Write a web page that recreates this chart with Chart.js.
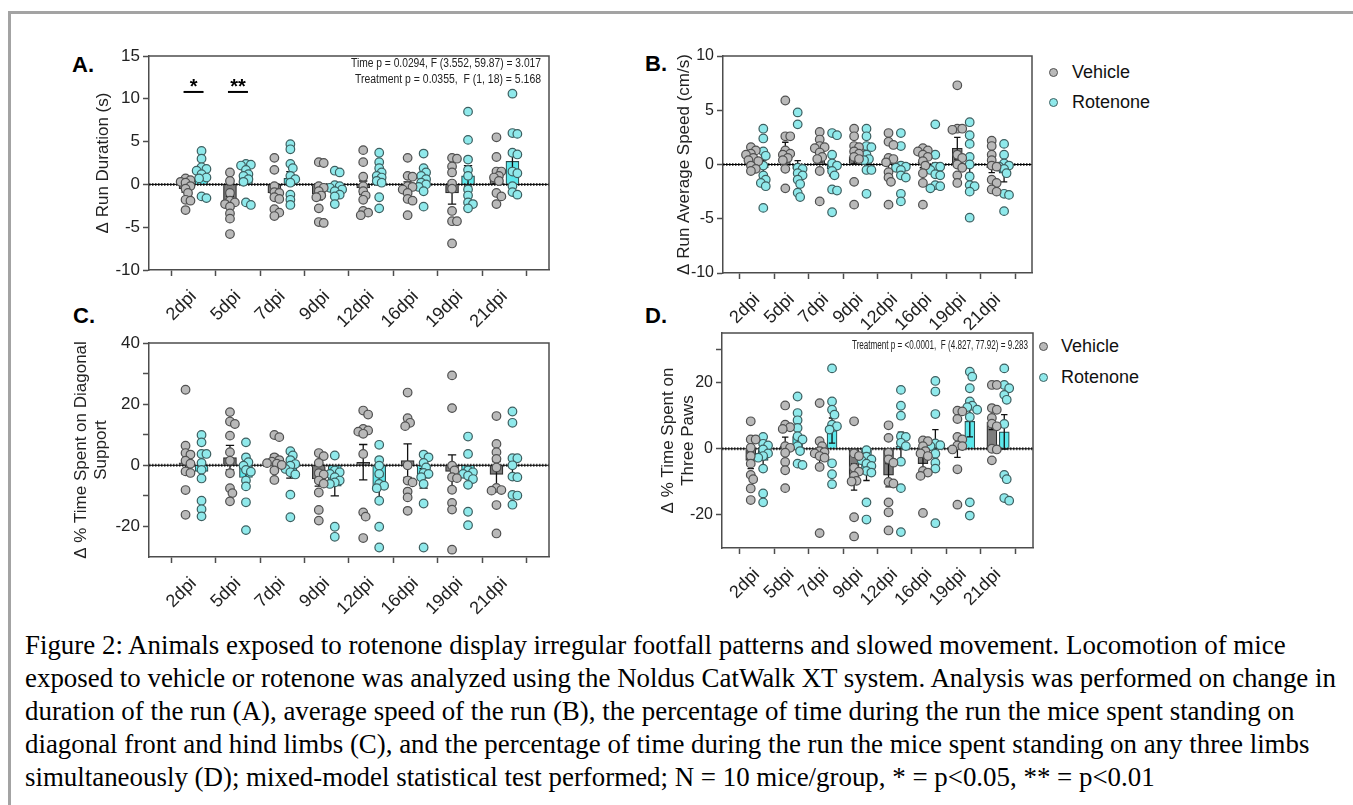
<!DOCTYPE html>
<html>
<head>
<meta charset="utf-8">
<script src="https://cdn.jsdelivr.net/npm/chart.js@4.4.0/dist/chart.umd.min.js"></script>
<style>
body { margin: 0; background: #fff; width: 1353px; height: 805px; overflow: hidden; position: relative; font-family: "Liberation Sans", Arial, sans-serif; }
#frame { position: absolute; left: 8px; top: 11px; width: 1350px; height: 800px; border-top: 3px solid #a3a3a3; border-left: 3px solid #a3a3a3; }
canvas { position: absolute; }
.letter { position: absolute; font: bold 22px "Liberation Sans", Arial, sans-serif; line-height: 22px; color: #000; }
.leg { position: absolute; font: 18px "Liberation Sans", Arial, sans-serif; line-height: 20px; color: #111; }
.dot { position: absolute; width: 7px; height: 7px; border-radius: 50%; }
#caption { position: absolute; left: 25px; top: 629px; font: 26.9px "Liberation Serif", "Times New Roman", serif; line-height: 33px; color: #000; white-space: nowrap; }
</style>
</head>
<body>
<div id="frame"></div>

<div class="letter" style="left:72px;top:54px">A.</div>
<div class="letter" style="left:645px;top:53px">B.</div>
<div class="letter" style="left:73px;top:305px">C.</div>
<div class="letter" style="left:645px;top:305px">D.</div>

<div class="dot" style="left:1049px;top:68px;background:#b9b9b9;border:1px solid #505050"></div>
<div class="leg" style="left:1072px;top:62px">Vehicle</div>
<div class="dot" style="left:1049px;top:98px;background:#8fe9eb;border:1px solid #3d5f60"></div>
<div class="leg" style="left:1072px;top:92px">Rotenone</div>

<div class="dot" style="left:1039px;top:342px;background:#b9b9b9;border:1px solid #505050"></div>
<div class="leg" style="left:1061px;top:336px">Vehicle</div>
<div class="dot" style="left:1039px;top:373px;background:#8fe9eb;border:1px solid #3d5f60"></div>
<div class="leg" style="left:1061px;top:367px">Rotenone</div>

<div id="caption">Figure 2: Animals exposed to rotenone display irregular footfall patterns and slowed movement. Locomotion of mice<br>exposed to vehicle or rotenone was analyzed using the Noldus CatWalk XT system. Analysis was performed on change in<br>duration of the run (A), average speed of the run (B), the percentage of time during the run the mice spent standing on<br>diagonal front and hind limbs (C), and the percentage of time during the run the mice spent standing on any three limbs<br>simultaneously (D); mixed-model statistical test performed; N = 10 mice/group, * = p&lt;0.05, ** = p&lt;0.01</div>

<script>
// categories
var days = ['2dpi', '5dpi', '7dpi', '9dpi', '12dpi', '16dpi', '19dpi', '21dpi'];

// A. Δ Run Duration (s)
var durVehicle = [
  [0.7, 0.5, 0.3, 0.2, -0.2, -0.5, -1.0, -1.8, -1.9, -3.0],
  [1.4, 0.4, -1.0, -1.9, -2.1, -2.3, -2.6, -3.4, -4.0, -5.8],
  [3.1, 1.7, -0.2, -0.9, -1.0, -1.5, -1.7, -2.9, -3.3, -3.7],
  [2.6, 2.5, -0.2, -0.4, -0.8, -1.3, -1.5, -2.8, -4.4, -4.5],
  [4.0, 2.6, 0.9, -0.2, -0.8, -1.3, -1.8, -3.1, -3.3, -3.6],
  [3.1, 1.0, 0.9, -0.2, -0.3, -0.6, -1.0, -1.7, -1.9, -3.6],
  [3.1, 3.0, 2.1, 1.4, 0.1, -0.5, -3.1, -4.3, -4.3, -6.9],
  [5.5, 3.2, 1.5, 1.5, 1.0, 0.8, 0.4, -1.0, -1.4, -2.3]
];
var durRotenone = [
  [3.9, 3.0, 2.0, 1.8, 1.6, 1.2, 0.8, 0.7, -1.4, -1.6],
  [2.4, 2.3, 2.2, 1.7, 1.2, 1.0, 0.6, 0.3, -2.1, -2.4],
  [4.7, 4.1, 2.4, 1.9, 1.0, 0.6, 0.2, -1.2, -1.8, -2.4],
  [1.6, 1.4, -0.1, -0.2, -0.4, -0.6, -0.8, -1.2, -1.4, -2.3],
  [3.7, 2.6, 1.9, 1.4, 1.0, 0.8, 0.4, 0.2, -1.5, -2.8],
  [3.6, 1.9, 1.4, 1.0, 0.6, 0.2, 0.0, -0.3, -0.8, -2.6],
  [8.5, 5.2, 2.9, 1.7, 1.0, -0.6, -1.3, -2.1, -2.3, -2.8],
  [10.6, 6.0, 5.9, 3.7, 3.5, 1.5, 1.3, -0.2, -0.9, -1.2]
];
var durVehicleMean = [-0.5, -2.1, -1.0, -1.1, -0.4, -0.3, -1.0, 0.9];
var durVehicleSem = [0.4, 0.7, 0.7, 0.7, 0.8, 0.6, 1.3, 0.8];
var durRotenoneMean = [1.2, 0.9, 0.7, -0.4, 0.8, 0.5, 1.0, 2.7];
var durRotenoneSem = [0.5, 0.5, 0.8, 0.4, 0.5, 0.5, 1.2, 1.2];

// B. Δ Run Average Speed (cm/s)
var speedVehicle = [
  [1.6, 1.3, 1.0, 0.9, 0.6, 0.4, 0.3, -0.1, -0.4, -0.6],
  [5.9, 2.6, 2.6, 1.3, 1.0, 0.9, 0.6, 0.4, -0.4, -2.2],
  [3.0, 2.3, 1.7, 1.6, 1.5, 1.1, 0.7, 0.5, -0.6, -3.4],
  [3.3, 2.6, 1.7, 1.6, 1.2, 1.0, 0.7, 0.5, -1.6, -3.7],
  [2.9, 2.1, 1.8, 0.6, 0.5, 0.2, -0.7, -1.2, -1.6, -3.7],
  [1.5, 1.3, 1.2, 0.9, 0.7, 0.3, -0.1, -0.8, -1.7, -3.7],
  [7.3, 3.3, 3.3, 3.2, 0.9, 0.6, 0.0, -0.3, -1.0, -1.7],
  [2.2, 1.7, 0.9, 0.4, -0.1, -0.2, -1.4, -1.7, -2.3, -2.5]
];
var speedRotenone = [
  [3.3, 2.4, 1.2, 0.8, -0.1, -1.0, -1.4, -1.7, -2.0, -4.0],
  [4.8, 3.7, -0.3, -0.4, -0.8, -1.0, -1.4, -1.8, -2.6, -3.0],
  [2.9, 2.7, 0.9, 0.1, -0.1, -0.6, -1.0, -2.3, -2.4, -4.4],
  [3.3, 2.6, 1.7, 1.6, 0.9, 0.5, 0.4, -0.5, -0.5, -2.7],
  [2.9, 1.7, -0.1, -0.2, -0.3, -0.5, -1.0, -1.2, -2.7, -3.4],
  [3.7, 0.9, -0.2, -0.2, -0.5, -0.9, -1.0, -1.9, -2.0, -2.2],
  [3.9, 2.7, 1.9, 0.7, 0.0, -1.1, -1.9, -2.0, -2.5, -4.9],
  [1.9, 0.9, 0.1, -0.1, -0.2, -0.4, -0.8, -2.7, -2.8, -4.3]
];
var speedVehicleMean = [0.5, 1.3, 0.8, 0.7, 0.1, 0.2, 1.5, -0.3];
var speedVehicleSem = [0.25, 0.75, 0.55, 0.65, 0.6, 0.5, 1.0, 0.45];
var speedRotenoneMean = [-0.3, -0.4, -0.4, 0.7, -0.5, -0.4, -0.1, -0.8];
var speedRotenoneSem = [0.7, 0.75, 0.65, 0.55, 0.55, 0.55, 0.7, 0.8];

// C. Δ % Time Spent on Diagonal Support
var diagVehicle = [
  [24.7, 6.4, 4.0, 3.5, 1.5, 0.5, -2.0, -2.5, -8.1, -16.2],
  [17.4, 14.3, 13.5, 9.7, 4.3, 1.5, -2.6, -7.5, -9.1, -11.8],
  [9.9, 9.2, 2.6, 1.7, 1.2, 0.7, 0.5, 0.1, -1.7, -4.8],
  [4.0, 3.0, 0.8, -2.6, -3.0, -5.0, -6.0, -8.9, -14.6, -18.1],
  [17.9, 16.6, 11.9, 11.4, 11.0, 10.3, 3.7, -15.4, -16.8, -23.8],
  [23.8, 15.4, 13.9, 12.8, 0.0, -5.0, -5.6, -8.6, -10.5, -14.9],
  [29.4, 18.7, -0.1, -1.7, -3.9, -4.2, -8.0, -12.3, -14.5, -27.6],
  [16.1, 7.0, 4.3, 2.1, -0.7, -7.4, -8.1, -8.3, -13.0, -22.3]
];
var diagRotenone = [
  [9.9, 7.5, 3.7, 3.7, 0.8, -1.5, -4.3, -11.6, -14.4, -16.7],
  [7.5, 2.6, 1.0, -0.1, -1.5, -2.1, -5.0, -6.9, -12.1, -21.2],
  [4.6, 3.2, 1.7, 0.4, -0.1, -1.2, -2.3, -3.0, -9.6, -17.0],
  [3.2, -1.7, -2.3, -2.8, -3.9, -5.0, -5.6, -6.1, -20.1, -23.4],
  [6.7, 1.7, -0.1, -2.8, -6.1, -6.7, -7.5, -11.6, -20.1, -26.9],
  [3.5, 2.6, 0.8, -0.7, -2.5, -2.8, -3.9, -6.1, -12.5, -26.9],
  [9.4, 3.7, -1.7, -2.3, -2.8, -3.4, -4.5, -6.4, -15.2, -19.6],
  [17.6, 13.9, 2.3, 2.3, 0.0, -3.7, -3.9, -9.7, -9.9, -12.9]
];
var diagVehicleMean = [0.8, 2.5, 1.2, -4.5, 1.0, 1.5, -2.0, -3.0];
var diagVehicleSem = [3.6, 4.0, 2.2, 2.3, 5.8, 5.5, 5.4, 4.2];
var diagRotenoneMean = [-2.0, -4.0, -2.0, -6.8, -7.5, -4.3, -3.8, -0.3];
var diagRotenoneSem = [2.8, 2.6, 2.2, 3.2, 4.0, 3.2, 2.6, 3.0];

// D. Δ % Time Spent on Three Paws
var threeVehicle = [
  [8.3, 2.8, 2.8, 0.3, -2.2, -4.5, -7.9, -9.2, -12.0, -15.5],
  [13.1, 7.3, 6.5, 6.0, 0.8, 0.3, -1.2, -4.0, -6.5, -11.9],
  [13.8, 2.3, 0.8, -0.7, -1.0, -1.4, -2.2, -2.7, -5.5, -25.5],
  [8.3, -1.4, -2.2, -5.7, -6.9, -8.2, -9.7, -9.9, -20.7, -26.5],
  [7.1, 3.3, -1.2, -3.2, -4.2, -10.0, -10.5, -16.2, -19.2, -24.7],
  [2.5, 2.3, 0.8, -0.7, -1.4, -2.2, -6.7, -7.2, -8.2, -19.4],
  [11.5, 11.3, 9.0, 3.6, 2.8, 1.0, 0.8, -0.2, -6.2, -16.9],
  [19.3, 19.3, 12.3, 11.8, 9.3, 7.6, 6.8, 0.0, -0.2, -3.5]
];
var threeRotenone = [
  [3.6, 1.5, 1.0, -0.2, -1.4, -2.2, -2.7, -6.0, -13.5, -16.2],
  [15.8, 10.8, 8.6, 6.3, 3.8, 2.8, 0.8, -0.7, -4.5, -4.9],
  [24.3, 14.3, 11.8, 10.3, 7.3, 6.8, 5.8, -4.4, -7.7, -10.7],
  [-0.4, -2.4, -3.2, -3.5, -4.5, -5.2, -6.7, -7.2, -16.2, -21.4],
  [17.8, 13.0, 10.0, 3.8, 3.6, 1.8, 0.8, -3.9, -11.9, -25.2],
  [20.5, 17.3, 10.5, 1.6, 1.1, 0.8, -1.5, -4.2, -6.0, -22.5],
  [23.3, 21.8, 18.3, 14.3, 13.0, 12.6, 11.8, 9.6, -16.2, -20.2],
  [24.3, 19.3, 18.3, 16.3, 14.8, 7.5, -7.9, -9.2, -14.9, -15.7]
];
var threeVehicleMean = [-3.5, 0.8, -2.2, -8.5, -8.0, -4.5, 0.8, 8.0];
var threeVehicleSem = [2.5, 2.7, 4.0, 4.0, 3.5, 2.7, 3.4, 2.2];
var threeRotenoneMean = [-3.5, 3.7, 5.5, -7.2, 0.8, 1.3, 8.3, 5.1];
var threeRotenoneSem = [2.5, 2.6, 3.8, 2.4, 4.2, 4.5, 4.7, 5.2];

Chart.defaults.font.family = '"Liberation Sans", Arial, sans-serif';
Chart.defaults.color = '#222';

var AXIS = '#4d4d4d';

// spread the dots of one group sideways a little (they still overlap, like in prism)
function swarm(values, center, pxY, pxCat) {
  var diam = 8.5;
  var placed = [];
  var xs = [];
  var order = values.map(function (v, i) { return i; }).sort(function (a, b) { return values[b] - values[a]; });
  order.forEach(function (i) {
    var y = values[i] * pxY;
    var best = 0, bestGap = -1;
    for (var k = 0; k < 7; k++) {
      var off = (k % 2 ? 1 : -1) * Math.ceil(k / 2) * diam * 0.33;
      var gap = placed.reduce(function (g, p) { return Math.min(g, Math.hypot(p.x - off, p.y - y)); }, 99);
      if (gap >= diam * 0.6) { best = off; bestGap = gap; break; }
      if (gap > bestGap) { best = off; bestGap = gap; }
    }
    placed.push({ x: best, y: y });
    xs[i] = center + best / pxCat;
  });
  return xs;
}

function makePanel(p) {
  var cv = document.createElement('canvas');
  cv.width = p.width;
  cv.height = p.height;
  cv.style.left = p.left + 'px';
  cv.style.top = p.top + 'px';
  document.body.appendChild(cv);

  var plotW = p.width - p.padRight - p.yWidth;
  var plotH = p.height - 16 - 60;
  var pxCat = plotW / (p.xMax - p.xMin);
  var pxY = plotH / (p.yMax - p.yMin);

  function dots(groups, shift) {
    var out = [];
    groups.forEach(function (vals, i) {
      var xs = swarm(vals, i + shift, pxY, pxCat);
      vals.forEach(function (v, k) { out.push({ x: xs[k], y: v }); });
    });
    return out;
  }

  var plugin = {
    id: 'panel',
    afterDatasetDraw: function (chart, args) {
      if (args.index !== 0) return;
      var ctx = chart.ctx, a = chart.chartArea, ys = chart.scales.y;
      var y0 = ys.getPixelForValue(0);
      ctx.save();
      ctx.strokeStyle = '#555';
      ctx.lineWidth = 3;
      ctx.setLineDash([1.5, 1.5]);
      ctx.beginPath(); ctx.moveTo(a.left, y0); ctx.lineTo(a.right, y0); ctx.stroke();
      ctx.setLineDash([]);
      ctx.strokeStyle = '#000';
      ctx.lineWidth = 1;
      ctx.beginPath(); ctx.moveTo(a.left, y0); ctx.lineTo(a.right, y0); ctx.stroke();
      var sems = [p.vSem, p.rSem];
      [0, 1].forEach(function (d) {
        var ds = chart.data.datasets[d];
        chart.getDatasetMeta(d).data.forEach(function (bar, j) {
          var m = ds.data[j].y, s = sems[d][j];
          var yt = ys.getPixelForValue(m + s), yb = ys.getPixelForValue(m - s);
          var cw = bar.width * 0.32;
          ctx.strokeStyle = '#111';
          ctx.lineWidth = 1.3;
          ctx.beginPath();
          ctx.moveTo(bar.x, yt); ctx.lineTo(bar.x, yb);
          ctx.moveTo(bar.x - cw, yt); ctx.lineTo(bar.x + cw, yt);
          ctx.moveTo(bar.x - cw, yb); ctx.lineTo(bar.x + cw, yb);
          ctx.stroke();
        });
      });
      ctx.restore();
    },
    afterDraw: function (chart) {
      var ctx = chart.ctx, a = chart.chartArea, xs = chart.scales.x, ys = chart.scales.y;
      ctx.save();
      ctx.strokeStyle = AXIS;
      ctx.lineWidth = 1.5;
      ctx.beginPath();
      ctx.moveTo(a.left, a.top); ctx.lineTo(a.right, a.top); ctx.lineTo(a.right, a.bottom);
      ctx.stroke();
      ctx.fillStyle = '#222';
      ctx.textAlign = 'right';
      ctx.textBaseline = 'middle';
      ctx.font = '12px "Liberation Sans", Arial, sans-serif';
      (p.notes || []).forEach(function (n) {
        ctx.fillText(n.text, a.right - n.dx, a.top + n.dy, n.w);
      });
      (p.sigs || []).forEach(function (s) {
        var x = xs.getPixelForValue(s.cat), y = ys.getPixelForValue(s.value);
        ctx.strokeStyle = '#000';
        ctx.lineWidth = 2;
        ctx.beginPath(); ctx.moveTo(x - 10, y); ctx.lineTo(x + 10, y); ctx.stroke();
        ctx.font = 'bold 20px "Liberation Sans", Arial, sans-serif';
        ctx.textAlign = 'center';
        ctx.textBaseline = 'alphabetic';
        ctx.fillStyle = '#000';
        ctx.fillText(s.text, x, y + 1);
      });
      ctx.restore();
    }
  };

  return new Chart(cv, {
    type: 'bar',
    data: {
      datasets: [
        {
          label: 'Vehicle',
          data: days.map(function (d, i) { return { x: i - 0.18, y: p.vMean[i] }; }),
          backgroundColor: '#7d7d7d', borderColor: '#2b2b2b', borderWidth: 1.2,
          grouped: false, categoryPercentage: 1, barPercentage: 1, maxBarThickness: p.barW, order: 2
        },
        {
          label: 'Rotenone',
          data: days.map(function (d, i) { return { x: i + 0.18, y: p.rMean[i] }; }),
          backgroundColor: '#5ce8ec', borderColor: '#2b4a4b', borderWidth: 1.2,
          grouped: false, categoryPercentage: 1, barPercentage: 1, maxBarThickness: p.barW, order: 2
        },
        {
          type: 'scatter', label: 'Vehicle mice',
          data: dots(p.vehicle, -0.18),
          pointRadius: 4.3, backgroundColor: '#b9b9b9', borderColor: '#505050', borderWidth: 1.2, order: 1
        },
        {
          type: 'scatter', label: 'Rotenone mice',
          data: dots(p.rotenone, 0.18),
          pointRadius: 4.3, backgroundColor: '#8fe9eb', borderColor: '#3d5f60', borderWidth: 1.2, order: 1
        }
      ]
    },
    options: {
      responsive: false,
      animation: false,
      devicePixelRatio: 1,
      layout: { padding: { top: 16, right: p.padRight, left: 0, bottom: 0 } },
      plugins: { legend: { display: false }, tooltip: { enabled: false } },
      scales: {
        x: {
          type: 'linear', min: p.xMin, max: p.xMax,
          afterBuildTicks: function (ax) { ax.ticks = days.map(function (d, i) { return { value: i }; }); },
          afterFit: function (s) { s.height = 60; },
          ticks: {
            callback: function (v) { return days[v]; },
            autoSkip: false, maxRotation: 45, minRotation: 45, padding: 10,
            color: '#222', font: { size: 18 }
          },
          grid: { drawOnChartArea: false, drawTicks: true, tickLength: 6, tickColor: AXIS, tickWidth: 1.5 },
          border: { color: AXIS, width: 1.5 }
        },
        y: {
          min: p.yMin, max: p.yMax,
          afterBuildTicks: function (ax) { ax.ticks = p.yTicks.map(function (v) { return { value: v }; }); },
          afterFit: function (s) { s.width = p.yWidth; },
          ticks: {
            callback: function (v) { return p.yLabels.indexOf(v) >= 0 ? String(v) : ''; },
            padding: 3, color: '#222', font: { size: p.tickSize }
          },
          grid: { drawOnChartArea: false, drawTicks: true, tickLength: 6, tickColor: AXIS, tickWidth: 1.5 },
          border: { color: AXIS, width: 1.5 },
          title: {
            display: true, text: p.title, color: '#222',
            font: { size: 17, lineHeight: 1.2 },
            padding: { top: p.titlePad, bottom: 0 }
          }
        }
      }
    },
    plugins: [plugin]
  });
}

makePanel({
  left: 60, top: 40, width: 500, height: 290, padRight: 11, yWidth: 89, titlePad: 32.8, barW: 13, tickSize: 17,
  xMin: -0.44, xMax: 7.44, yMin: -10, yMax: 15,
  yTicks: [15, 10, 5, 0, -5, -10], yLabels: [15, 10, 5, 0, -5, -10],
  title: 'Δ Run Duration (s)',
  vehicle: durVehicle, rotenone: durRotenone,
  vMean: durVehicleMean, vSem: durVehicleSem, rMean: durRotenoneMean, rSem: durRotenoneSem,
  notes: [
    { text: 'Time p = 0.0294, F (3.552, 59.87) = 3.017', dx: 8, dy: 8, w: 190 },
    { text: 'Treatment p = 0.0355,  F (1, 18) = 5.168', dx: 8, dy: 24, w: 186 }
  ],
  sigs: [
    { cat: 0, value: 10.8, text: '*' },
    { cat: 1, value: 10.8, text: '**' }
  ]
});

makePanel({
  left: 620, top: 40, width: 425, height: 293, padRight: 13, yWidth: 103, titlePad: 54.5, barW: 10, tickSize: 16,
  xMin: -0.43, xMax: 7.43, yMin: -10, yMax: 10,
  yTicks: [10, 5, 0, -5, -10], yLabels: [10, 5, 0, -5, -10],
  title: 'Δ Run Average Speed (cm/s)',
  vehicle: speedVehicle, rotenone: speedRotenone,
  vMean: speedVehicleMean, vSem: speedVehicleSem, rMean: speedRotenoneMean, rSem: speedRotenoneSem
});

makePanel({
  left: 60, top: 327, width: 500, height: 290, padRight: 11, yWidth: 89, titlePad: 10.8, barW: 13, tickSize: 17,
  xMin: -0.44, xMax: 7.44, yMin: -30, yMax: 40,
  yTicks: [40, 30, 20, 10, 0, -10, -20], yLabels: [40, 20, 0, -20],
  title: ['Δ % Time Spent on Diagonal', 'Support'],
  vehicle: diagVehicle, rotenone: diagRotenone,
  vMean: diagVehicleMean, vSem: diagVehicleSem, rMean: diagRotenoneMean, rSem: diagRotenoneSem
});

makePanel({
  left: 620, top: 317, width: 425, height: 291, padRight: 12, yWidth: 102, titlePad: 37.8, barW: 10, tickSize: 16,
  xMin: -0.45, xMax: 7.45, yMin: -30, yMax: 35,
  yTicks: [30, 20, 0, -20], yLabels: [20, 0, -20],
  title: ['Δ % Time Spent on', 'Three Paws'],
  vehicle: threeVehicle, rotenone: threeRotenone,
  vMean: threeVehicleMean, vSem: threeVehicleSem, rMean: threeRotenoneMean, rSem: threeRotenoneSem,
  notes: [
    { text: 'Treatment p = <0.0001,  F (4.827, 77.92) = 9.283', dx: 5, dy: 13, w: 176 }
  ]
});
</script>
</body>
</html>
